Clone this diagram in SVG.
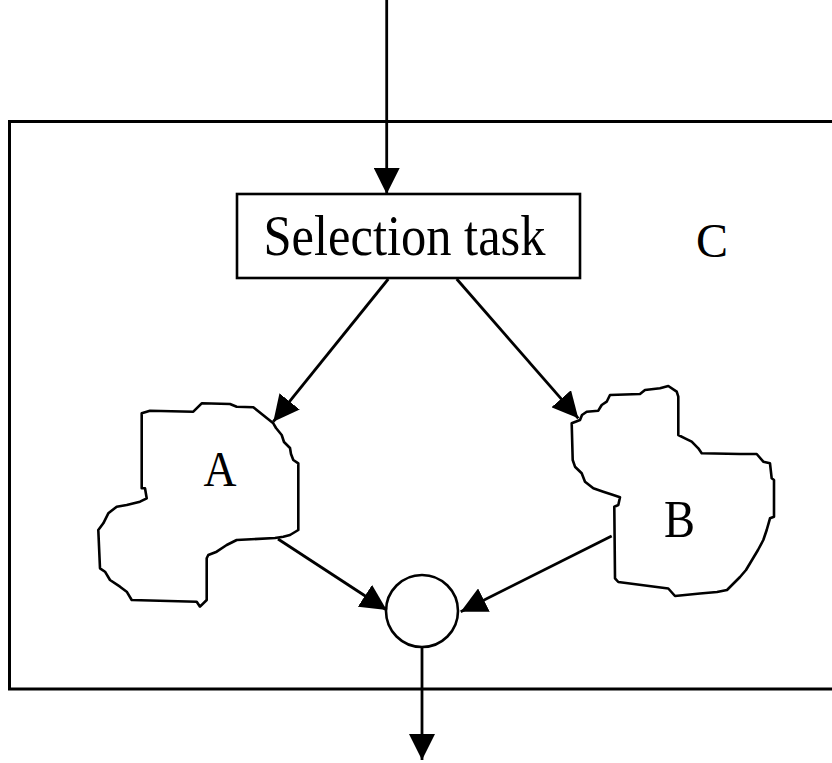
<svg xmlns="http://www.w3.org/2000/svg" width="832" height="763" viewBox="0 0 832 763">
<style>
.ln{fill:none;stroke:#000;stroke-width:2.8}
.blob{fill:#fff;stroke:#000;stroke-width:2.6;stroke-linejoin:round}
.t{font-family:"Liberation Serif","Times New Roman",serif;fill:#000}
</style>
<defs>
<marker id="ah" viewBox="0 0 26 26" refX="26" refY="13" markerWidth="26" markerHeight="26" markerUnits="userSpaceOnUse" orient="auto">
<path d="M0,0 L26,13 L0,26 z" fill="#000"/>
</marker>
</defs>
<rect width="832" height="763" fill="#fff"/>
<g id="C">
<rect x="9.5" y="121.5" width="840" height="567.5" fill="none" stroke="#000" stroke-width="3"/>
<text class="t" x="712" y="257" font-size="48" text-anchor="middle">C</text>
</g>
<g id="selection">
<rect x="237" y="194" width="343" height="84" fill="#fff" stroke="#000" stroke-width="2.6"/>
<text class="t" x="263.5" y="255" font-size="58" textLength="282" lengthAdjust="spacingAndGlyphs">Selection task</text>
</g>
<g id="A">
<path class="blob" d="M141.7,413.3 L150,410.7 L193.3,411.7 L201.7,403.3 L230,404 L236.7,406.7 L253.3,407.3 L273.3,423.3 L276,428 L281.7,435 L284,442 L290,448 L291,454 L293.3,460 L298.3,463.3 L298.3,530 L290,535 L283.3,536.7 L275,538 L236.7,540 L226.7,545 L216.7,551.7 L208.3,555 L206.7,558.3 L206.7,600 L200,606.7 L196.7,601.7 L131.7,600 L126.7,591.7 L120,586.7 L110,580 L105,571.7 L100,568.3 L98.3,530 L103.3,523.3 L108.3,513.3 L116.7,506.7 L126.7,505 L140,501.7 L146.7,498.3 L145,488.3 L141.7,488.3 Z"/>
<text class="t" x="220" y="486" font-size="50" text-anchor="middle" textLength="33" lengthAdjust="spacingAndGlyphs">A</text>
</g>
<g id="B">
<path class="blob" d="M571.7,423.3 L580,420 L582,415 L586.7,411.7 L598.3,410.7 L601.7,405 L606.7,401.7 L610,395 L640,394 L645,390 L660,388.3 L668.3,386 L676.7,391.7 L678.3,396.7 L678.3,435 L685,438.3 L691.7,441.7 L698.3,448.3 L701.7,453.3 L740,454 L756.7,454 L763.3,461.7 L770,463.3 L771.7,478.3 L774,480 L774,516.7 L770,518.3 L766.7,530 L763.3,540 L758,550 L752,560 L746,570 L740,577 L727,590 L717,592 L700,593.5 L675,596 L668.3,588.5 L618.3,582 L615,578.3 L614.3,506.7 L618.3,505 L620,497.3 L613.3,495 L603.3,491.7 L593.3,488.3 L585,481.7 L581.7,473.3 L575,466.7 L572.7,460 Z"/>
<text class="t" x="679.5" y="536.7" font-size="52" text-anchor="middle" textLength="31" lengthAdjust="spacingAndGlyphs">B</text>
</g>
<g id="join">
<circle cx="422" cy="611" r="36" fill="#fff" stroke="#000" stroke-width="2.6"/>
</g>
<g id="connectors">
<line class="ln" x1="386.7" y1="0" x2="386.7" y2="194" marker-end="url(#ah)"/>
<line class="ln" x1="388.3" y1="279" x2="273.3" y2="421.7" marker-end="url(#ah)"/>
<line class="ln" x1="456.7" y1="279" x2="578.3" y2="418.3" marker-end="url(#ah)"/>
<line class="ln" x1="278" y1="539" x2="386.7" y2="610" marker-end="url(#ah)"/>
<line class="ln" x1="611.7" y1="536" x2="460.7" y2="611.7" marker-end="url(#ah)"/>
<line class="ln" x1="422" y1="648" x2="422" y2="760" marker-end="url(#ah)"/>
</g>
</svg>
